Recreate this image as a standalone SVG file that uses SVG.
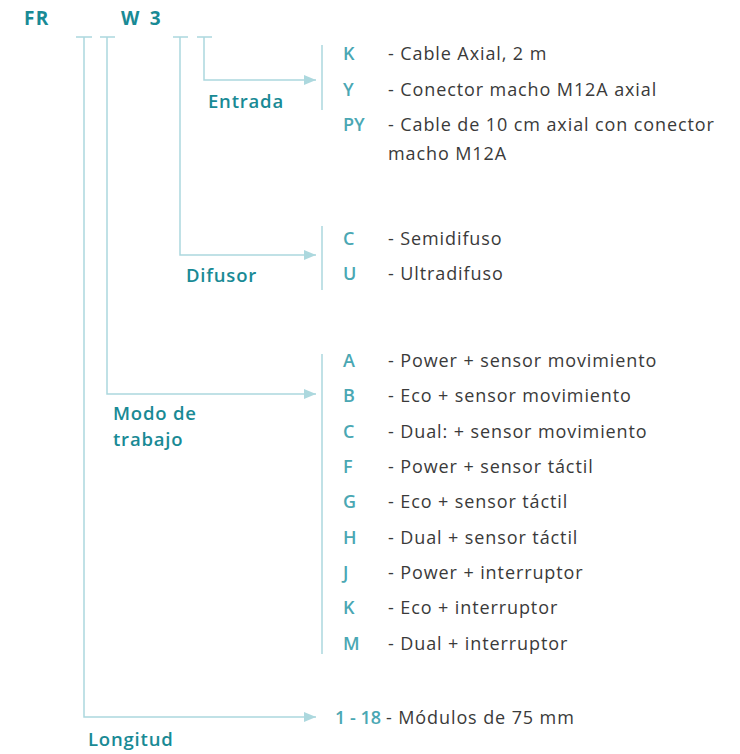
<svg xmlns="http://www.w3.org/2000/svg" width="740" height="754" viewBox="0 0 740 754">
<defs>
<style>
.ln{stroke:#acd8de;stroke-width:1.5;fill:none}
.hd{font-family:"Open Sans","Liberation Sans",sans-serif;font-weight:700;font-size:19px;letter-spacing:1.2px;fill:#198a95}
.lb{font-family:"Open Sans","Liberation Sans",sans-serif;font-weight:600;font-size:18.5px;letter-spacing:0.8px;fill:#198a95}
.cd{font-family:"Open Sans","Liberation Sans",sans-serif;font-weight:600;font-size:18px;fill:#4aa7b3}
.ds{font-family:"Open Sans","Liberation Sans",sans-serif;font-weight:400;font-size:18px;letter-spacing:0.9px;fill:#3a3a3a}
</style>
<marker id="ah" viewBox="0 0 12 10" refX="12" refY="5" markerWidth="12" markerHeight="10" markerUnits="userSpaceOnUse" orient="auto"><path d="M0,0 L12,5 L0,10 Z" fill="#acd8de"/></marker>
</defs>
<rect width="740" height="754" fill="#fff"/>
<g id="title">
<text class="hd" x="24" y="25">FR</text>
<text class="hd" x="121" y="25" word-spacing="3">W 3</text>
</g>
<g id="connectors">
<path class="ln" d="M76,37 H92 M100,37 H115 M173,37 H188 M197,37 H212"/>
<path class="ln" d="M204,37 V80 H316" marker-end="url(#ah)"/>
<path class="ln" d="M180,37 V255 H316" marker-end="url(#ah)"/>
<path class="ln" d="M107,37 V394 H316" marker-end="url(#ah)"/>
<path class="ln" d="M84,37 V717 H316" marker-end="url(#ah)"/>
<path class="ln" d="M322,45 V110 M322,226 V290 M322,354 V654"/>
</g>
<g id="entrada">
<text class="lb" x="208" y="108">Entrada</text>
<text class="cd" x="343" y="60">K</text><text class="ds" x="388" y="60">- Cable Axial, 2 m</text>
<text class="cd" x="343" y="96">Y</text><text class="ds" x="388" y="96">- Conector macho M12A axial</text>
<text class="cd" x="343" y="131">PY</text><text class="ds" x="388" y="131">- Cable de 10 cm axial con conector</text>
<text class="ds" x="388" y="160">macho M12A</text>
</g>
<g id="difusor">
<text class="lb" x="186" y="282">Difusor</text>
<text class="cd" x="343" y="245">C</text><text class="ds" x="388" y="245">- Semidifuso</text>
<text class="cd" x="343" y="280">U</text><text class="ds" x="388" y="280">- Ultradifuso</text>
</g>
<g id="modo">
<text class="lb" x="113" y="420">Modo de</text>
<text class="lb" x="113" y="446">trabajo</text>
<text class="cd" x="343" y="367">A</text><text class="ds" x="388" y="367">- Power + sensor movimiento</text>
<text class="cd" x="343" y="402">B</text><text class="ds" x="388" y="402">- Eco + sensor movimiento</text>
<text class="cd" x="343" y="438">C</text><text class="ds" x="388" y="438">- Dual: + sensor movimiento</text>
<text class="cd" x="343" y="473">F</text><text class="ds" x="388" y="473">- Power + sensor táctil</text>
<text class="cd" x="343" y="508">G</text><text class="ds" x="388" y="508">- Eco + sensor táctil</text>
<text class="cd" x="343" y="544">H</text><text class="ds" x="388" y="544">- Dual + sensor táctil</text>
<text class="cd" x="343" y="579">J</text><text class="ds" x="388" y="579">- Power + interruptor</text>
<text class="cd" x="343" y="614">K</text><text class="ds" x="388" y="614">- Eco + interruptor</text>
<text class="cd" x="343" y="650">M</text><text class="ds" x="388" y="650">- Dual + interruptor</text>
</g>
<g id="longitud">
<text class="lb" x="88" y="746">Longitud</text>
<text class="cd" x="335" y="724">1 - 18</text><text class="ds" x="386" y="724">- Módulos de 75 mm</text>
</g>
</svg>
